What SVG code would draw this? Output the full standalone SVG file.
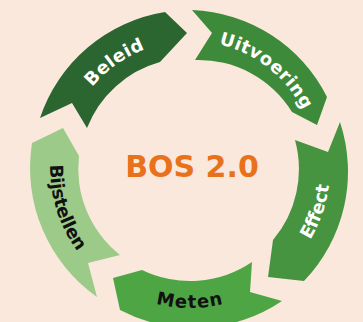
<svg xmlns="http://www.w3.org/2000/svg" width="363" height="322" viewBox="0 0 363 322">
<style>
.lbl{font-family:"DejaVu Sans","Liberation Sans",sans-serif;font-weight:bold;font-size:18px;text-anchor:middle}
.w{fill:#ffffff}
.k{fill:#111111}
.title{font-family:"DejaVu Sans","Liberation Sans",sans-serif;font-weight:bold;font-size:30px;fill:#e8721c;text-anchor:middle}
</style>
<defs>
<path id="pBeleid" d="M70.7,124.6 A127,127 0 0 1 187.8,41"/>
<path id="pUit" d="M198.9,41.3 A127,127 0 0 1 310.8,128.8"/>
<path id="pEffect" d="M280,275.2 A140,140 0 0 0 326.9,138.9"/>
<path id="pMeten" d="M115.8,286.7 A140,140 0 0 0 264.2,286.7"/>
<path id="pBijst" d="M54.8,131.8 A140,140 0 0 0 100,275.2"/>
</defs>
<rect width="363" height="322" fill="#fbe8dd"/>
<g id="connectors"/>
<g id="beleid">
<path d="M40,118 A158,158 0 0 1 165,12 L187,33 L160,62 A110,110 0 0 0 87,128 L72,103 Z" fill="#2b6530"/>
<text class="lbl w" letter-spacing="0.4"><textPath href="#pBeleid" startOffset="50%">Beleid</textPath></text>
</g>
<g id="uitvoering">
<path d="M192,10 A158,158 0 0 1 327,97 L317,125 L292,112 A110,110 0 0 0 195,60 L212,33 Z" fill="#3d8a3a"/>
<text class="lbl w" letter-spacing="0.4"><textPath href="#pUit" startOffset="50%">Uitvoering</textPath></text>
</g>
<g id="effect">
<path d="M340,122 A158,158 0 0 1 304,281 L268,277 L273,240 A110,110 0 0 0 295,140 L328,152 Z" fill="#469340"/>
<text class="lbl w"><textPath href="#pEffect" startOffset="50%">Effect</textPath></text>
</g>
<g id="meten">
<path d="M282,301 A158,158 0 0 1 120,310 L113,278 L142,270 A110,110 0 0 0 252,262 L250,292 Z" fill="#4ea544"/>
<text class="lbl k" letter-spacing="1"><textPath href="#pMeten" startOffset="50%">Meten</textPath></text>
</g>
<g id="bijstellen">
<path d="M97,297 A158,158 0 0 1 32,143 L63,128 L79,156 A110,110 0 0 0 120,255 L88,263 Z" fill="#9ccb89"/>
<text class="lbl k" letter-spacing="-0.3"><textPath href="#pBijst" startOffset="50%">Bijstellen</textPath></text>
</g>
<g id="center">
<text class="title" x="192" y="177">BOS 2.0</text>
</g>
</svg>
